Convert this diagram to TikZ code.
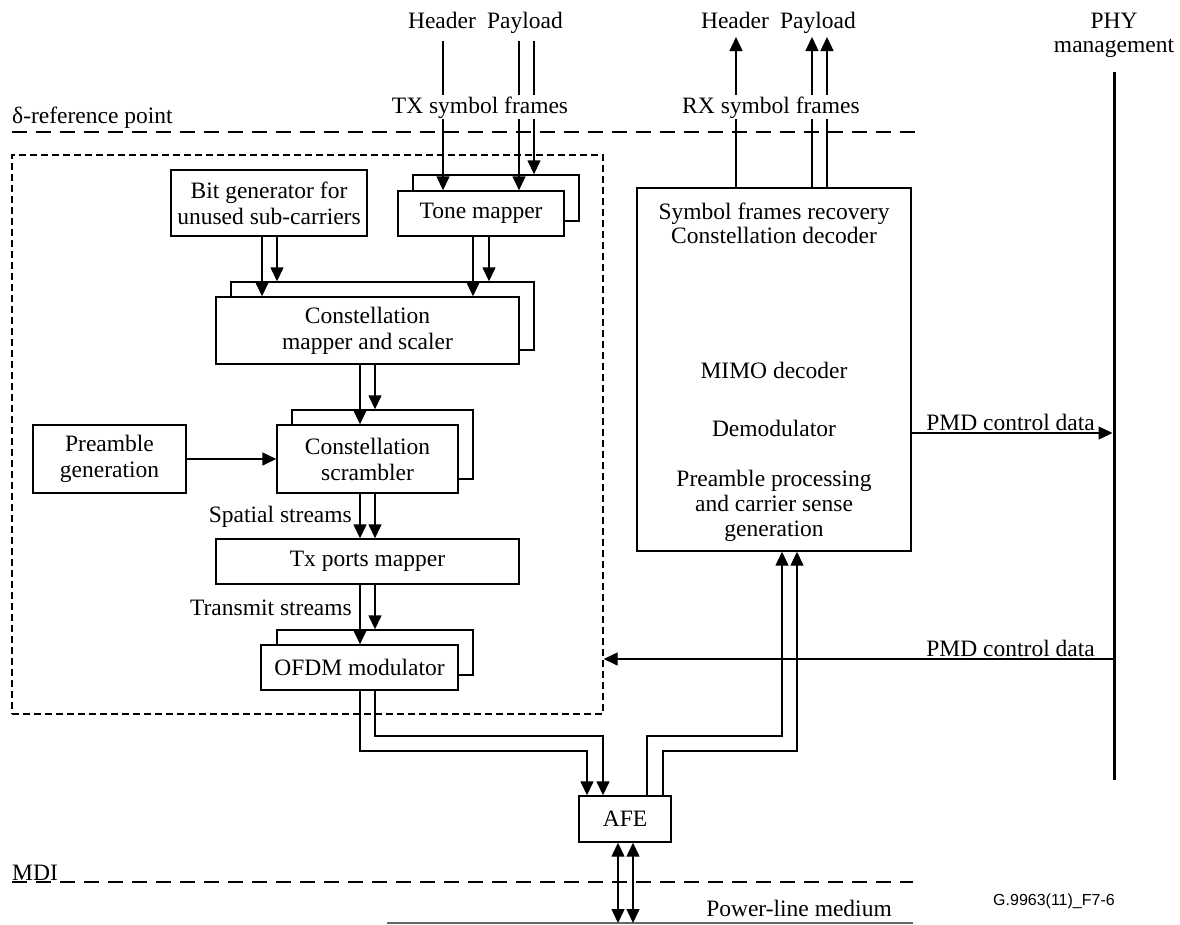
\documentclass[tikz,border=0pt]{standalone}
\usepackage{fontspec}
\setmainfont{Liberation Serif}
\newfontfamily\lsans{Liberation Sans}
\usetikzlibrary{arrows.meta,calc}
\begin{document}
\begin{tikzpicture}[x=1pt,y=-1pt,
  every node/.style={font=\fontsize{23.5}{26}\selectfont, inner sep=0pt},
  box/.style={draw, line width=1.4pt, fill=white, align=center},
  ln/.style={line width=1.4pt},
  arr/.style={ln, -{Triangle[length=14pt,width=13pt]}},
  darr/.style={ln, {Triangle[length=14pt,width=13pt]}-{Triangle[length=14pt,width=13pt]}},
  refline/.style={line width=1.4pt, dash pattern=on 15pt off 9pt},
  boxdash/.style={draw, line width=1.4pt, dash pattern=on 7pt off 4pt},
  lbl/.style={anchor=base},
  wlbl/.style={anchor=base, fill=white, inner sep=1pt}
]
\useasboundingbox (0,0) rectangle (1180,924);

% lane coordinates
\foreach \x in {262,277,360,375,443,473,489,519,534,587,603,618,633,647,663,736,782,797,812,827,1114}
  \coordinate (L\x) at (\x,0);
\foreach \y in {37,41,72,433,659,736,751,780,923}
  \coordinate (Y\y) at (0,\y);

% reference lines
\coordinate (dL) at (12,132);
\coordinate (dR) at (915,132);
\draw[refline] (dL) -- (dR);
\node[lbl, anchor=base west] (dref) at (12,123) {δ-reference point};
\coordinate (mL) at (12,882);
\coordinate (mR) at (913,882);
\draw[refline] (mL) -- (mR);
\node[lbl, anchor=base west] (mdi) at (12,880) {MDI};

% dashed transmitter box
\node[boxdash, minimum width=591pt, minimum height=559pt] (dbox) at (307.5,434.5) {};

% transmitter blocks
\node[box, minimum width=196pt, minimum height=66pt] (bitgen) at (269,203) {Bit generator for\\unused sub-carriers};
\node[box, minimum width=166pt, minimum height=46pt] (tmB) at (496,198) {};
\node[box, minimum width=166pt, minimum height=45pt] (tm) at (481,213.5) {Tone mapper};
\node[box, minimum width=303pt, minimum height=68pt] (cmB) at (382.5,316) {};
\node[box, minimum width=303pt, minimum height=67pt] (cm) at (367.5,330.5) {Constellation\\mapper and scaler};
\node[box, minimum width=181pt, minimum height=69pt] (scB) at (382.5,444.5) {};
\node[box, minimum width=181pt, minimum height=68pt] (sc) at (367.5,459) {Constellation\\scrambler};
\node[box, minimum width=153pt, minimum height=68pt] (pre) at (109.5,459) {Preamble\\generation};
\node[box, minimum width=303pt, minimum height=45pt] (txp) at (367.5,561.5) {Tx ports mapper};
\node[box, minimum width=196pt, minimum height=45pt] (ofB) at (375,652.5) {};
\node[box, minimum width=197pt, minimum height=45pt] (of) at (359.5,667.5) {OFDM modulator};

% AFE and receiver
\node[box, minimum width=92pt, minimum height=46pt] (afe) at (625,819) {AFE};
\node[box, minimum width=274pt, minimum height=363pt] (rx) at (774,369.5) {};
\node[lbl] (rx1) at (774,219) {Symbol frames recovery};
\node[lbl] (rx2) at (774,243) {Constellation decoder};
\node[lbl] (rx3) at (774,378) {MIMO decoder};
\node[lbl] (rx4) at (774,436) {Demodulator};
\node[lbl] (rx5) at (774,486) {Preamble processing};
\node[lbl] (rx6) at (774,511) {and carrier sense};
\node[lbl] (rx7) at (774,536) {generation};

% PHY management
\node[lbl] (phy1) at (1114,28) {PHY};
\node[lbl] (phy2) at (1114,52) {management};
\draw[line width=3pt] (L1114 |- Y72) coordinate (phyT) -- (L1114 |- Y780) coordinate (phyB);

% top labels
\node[lbl] (txH) at (442,28) {Header};
\node[lbl] (txP) at (525,28) {Payload};
\node[lbl] (rxH) at (735,28) {Header};
\node[lbl] (rxP) at (818,28) {Payload};

% TX input arrows
\draw[arr] (L443 |- Y41) -- (tm.north -| L443);
\draw[arr] (L519 |- Y41) -- (tm.north -| L519);
\draw[arr] (L534 |- Y41) -- (tmB.north -| L534);
% RX output arrows
\draw[arr] (rx.north -| L736) -- (L736 |- Y37);
\draw[arr] (rx.north -| L812) -- (L812 |- Y37);
\draw[arr] (rx.north -| L827) -- (L827 |- Y37);
\node[wlbl] (txsf) at (480,113) {TX symbol frames};
\node[wlbl] (rxsf) at (771,113) {RX symbol frames};

% transmitter chain
\draw[arr] (bitgen.south -| L262) -- (cm.north -| L262);
\draw[arr] (bitgen.south -| L277) -- (cmB.north -| L277);
\draw[arr] (tm.south -| L473) -- (cm.north -| L473);
\draw[arr] (tm.south -| L489) -- (cmB.north -| L489);
\draw[arr] (cm.south -| L360) -- (sc.north -| L360);
\draw[arr] (cm.south -| L375) -- (scB.north -| L375);
\draw[arr] (pre.east |- sc.west) -- (sc.west);
\draw[arr] (sc.south -| L360) -- (txp.north -| L360);
\draw[arr] (sc.south -| L375) -- (txp.north -| L375);
\node[lbl, anchor=base east] (spat) at (352,522) {Spatial streams};
\draw[arr] (txp.south -| L360) -- (of.north -| L360);
\draw[arr] (txp.south -| L375) -- (ofB.north -| L375);
\node[lbl, anchor=base east] (trans) at (352,615) {Transmit streams};

% to AFE
\draw[arr] (of.south -| L360) -- (L360 |- Y751) -- (L587 |- Y751) -- (afe.north -| L587);
\draw[arr] (of.south -| L375) -- (L375 |- Y736) -- (L603 |- Y736) -- (afe.north -| L603);
% AFE to receiver
\draw[arr] (afe.north -| L647) -- (L647 |- Y736) -- (L782 |- Y736) -- (rx.south -| L782);
\draw[arr] (afe.north -| L663) -- (L663 |- Y751) -- (L797 |- Y751) -- (rx.south -| L797);

% PMD control data
\draw[arr] (rx.east |- Y433) -- ([xshift=-1.5pt]phyT |- Y433);
\node[lbl, anchor=base east] (pmd1) at (1095,430) {PMD control data};
\draw[arr] (phyT |- Y659) -- (dbox.east |- Y659);
\node[lbl, anchor=base east] (pmd2) at (1095,656) {PMD control data};

% power line
\coordinate (pwL) at (387,923);
\coordinate (pwR) at (913,923);
\draw[line width=1.2pt, black!60] (pwL) -- (pwR);
\draw[darr] (afe.south -| L618) -- (L618 |- Y923);
\draw[darr] (afe.south -| L633) -- (L633 |- Y923);
\node[lbl, anchor=base east] (pwt) at (892,916) {Power-line medium};
\node[anchor=base west, font=\lsans\fontsize{16}{18}\selectfont] (fig) at (993,905) {G.9963(11)\_F7-6};
\end{tikzpicture}
\end{document}
